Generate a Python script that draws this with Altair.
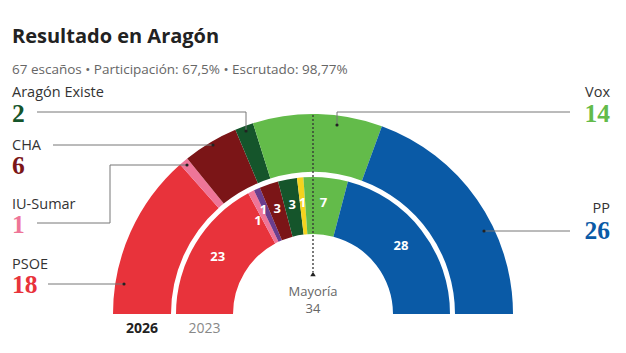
import math
import altair as alt
import pandas as pd

# ---------------- data ----------------
parties_2026 = ["PSOE", "IU-Sumar", "CHA", "Aragón Existe", "Vox", "PP"]
seats_2026 = [18, 1, 6, 2, 14, 26]
colors_2026 = ["#E8333B", "#EE7598", "#7B1517", "#15552B", "#63BB4A", "#0A5AA6"]

parties_2023 = ["PSOE", "IU", "Podemos", "CHA", "Teruel Existe", "PAR", "Vox", "PP"]
seats_2023 = [23, 1, 1, 3, 3, 1, 7, 28]
colors_2023 = ["#E8333B", "#EE7598", "#6A3D8E", "#7B1517", "#15552B", "#F4D31E", "#63BB4A", "#0A5AA6"]

total_seats = 67
majority = 34

title = "Resultado en Aragón"
subtitle = "67 escaños • Participación: 67,5% • Escrutado: 98,77%"

left_labels = ["Aragón Existe", "CHA", "IU-Sumar", "PSOE"]
right_labels = ["Vox", "PP"]

# ---------------- layout ----------------
W, H = 626, 353
CX, CY = 313, 314
OUT_R, OUT_R2 = 200, 142
IN_R, IN_R2 = 137, 80
SANS = "Open Sans"

# small nudges (in seat units / px) for crowded inner-ring labels
label_nudge = {"IU": (-1.4, -3), "Podemos": (-0.5, 4)}

theta_scale = alt.Scale(domain=[0, total_seats], range=[-math.pi / 2, math.pi / 2])


def ring_df(parties, seats, colors):
    df = pd.DataFrame({"party": parties, "seats": seats, "color": colors})
    df["order"] = range(len(df))
    df["end"] = df["seats"].cumsum()
    df["start"] = df["end"] - df["seats"]
    df["mid"] = (df["start"] + df["end"]) / 2
    return df


d26 = ring_df(parties_2026, seats_2026, colors_2026)
d23 = ring_df(parties_2023, seats_2023, colors_2023)
d23["lab_theta"] = d23["mid"] + d23["party"].map(lambda p: label_nudge.get(p, (0, 0))[0])
d23["lab_r"] = 111 + d23["party"].map(lambda p: label_nudge.get(p, (0, 0))[1])

outer = alt.Chart(d26).mark_arc(stroke=None).encode(
    theta=alt.Theta("start:Q", scale=theta_scale),
    theta2="end:Q",
    color=alt.Color("color:N", scale=None),
    x=alt.value(CX), y=alt.value(CY),
    radius=alt.value(OUT_R), radius2=alt.value(OUT_R2),
)

inner = alt.Chart(d23).mark_arc(stroke=None).encode(
    theta=alt.Theta("start:Q", scale=theta_scale),
    theta2="end:Q",
    color=alt.Color("color:N", scale=None),
    x=alt.value(CX), y=alt.value(CY),
    radius=alt.value(IN_R), radius2=alt.value(IN_R2),
)

inner_text = alt.Chart(d23).mark_text(
    color="white", font=SANS, fontWeight="bold", fontSize=13, baseline="middle"
).encode(
    theta=alt.Theta("lab_theta:Q", scale=theta_scale),
    radius=alt.Radius("lab_r:Q", scale=None),
    x=alt.value(CX), y=alt.value(CY),
    text="seats:Q",
)

# ---------------- annotations ----------------
seat_map = dict(zip(parties_2026, seats_2026))
col_map = dict(zip(parties_2026, colors_2026))

name_pos = {
    "Aragón Existe": (12, 97, 122),
    "CHA": (12, 150, 174),
    "IU-Sumar": (12, 209, 233),
    "PSOE": (12, 269, 293),
    "Vox": (610, 97, 122),
    "PP": (610, 213, 239),
}


def label_df(parties):
    rows = []
    for p in parties:
        x, yn, ys = name_pos[p]
        rows.append({"x": x, "yn": yn, "ys": ys, "name": p, "num": str(seat_map[p]), "color": col_map[p]})
    return pd.DataFrame(rows)


def label_layers(df, align):
    names = alt.Chart(df).mark_text(
        align=align, baseline="alphabetic", font=SANS, fontSize=14.5, color="#333333"
    ).encode(x=alt.X("x:Q", scale=None), y=alt.Y("yn:Q", scale=None), text="name:N")
    nums = alt.Chart(df).mark_text(
        align=align, baseline="alphabetic", font="Liberation Serif", fontWeight="bold", fontSize=25.5
    ).encode(x=alt.X("x:Q", scale=None), y=alt.Y("ys:Q", scale=None), text="num:N",
             color=alt.Color("color:N", scale=None))
    return names + nums


segments = pd.DataFrame({
    "x": [37, 246, 53, 37, 110, 110, 48, 570, 337, 570],
    "y": [112, 112, 145, 223, 223, 165, 284, 112, 112, 231],
    "x2": [246, 246, 213, 110, 110, 187, 124, 337, 337, 484],
    "y2": [112, 131, 145, 223, 165, 165, 284, 112, 125, 231],
})
leaders = alt.Chart(segments).mark_rule(color="#777777", strokeWidth=1).encode(
    x=alt.X("x:Q", scale=None), y=alt.Y("y:Q", scale=None),
    x2="x2:Q", y2="y2:Q",
)
dots = pd.DataFrame({"x": [246, 213, 187, 124, 337, 484], "y": [131, 145, 165, 284, 125, 231]})
dot_layer = alt.Chart(dots).mark_point(filled=True, color="#222222", size=10, opacity=1).encode(
    x=alt.X("x:Q", scale=None), y=alt.Y("y:Q", scale=None)
)

maj_line = alt.Chart(pd.DataFrame({"a": [0]})).mark_rule(
    color="#333333", strokeWidth=1.3, strokeDash=[2, 2]
).encode(x=alt.value(CX), y=alt.value(115), y2=alt.value(272))
maj_tri = alt.Chart(pd.DataFrame({"a": [0]})).mark_point(
    shape="triangle-up", filled=True, color="#222222", size=30, opacity=1
).encode(x=alt.value(CX), y=alt.value(274))
maj_text = alt.Chart(pd.DataFrame({"t": ["Mayoría", str(majority)], "y": [296, 312.5]})).mark_text(
    align="center", baseline="alphabetic", font=SANS, fontSize=13, color="#666666"
).encode(x=alt.value(CX), y=alt.Y("y:Q", scale=None), text="t:N")

years = pd.DataFrame({"t": ["2026"], "x": [CX - (OUT_R + OUT_R2) / 2]})
years23 = pd.DataFrame({"t": ["2023"], "x": [CX - (IN_R + IN_R2) / 2]})
y26 = alt.Chart(years).mark_text(
    align="center", baseline="alphabetic", font=SANS, fontWeight="bold", fontSize=14, color="#222222"
).encode(x=alt.X("x:Q", scale=None), y=alt.value(333), text="t:N")
y23 = alt.Chart(years23).mark_text(
    align="center", baseline="alphabetic", font=SANS, fontSize=14, color="#888888"
).encode(x=alt.X("x:Q", scale=None), y=alt.value(333), text="t:N")

title_l = alt.Chart(pd.DataFrame({"t": [title]})).mark_text(
    align="left", baseline="alphabetic", font=SANS, fontWeight="bold", fontSize=20, color="#222222"
).encode(x=alt.value(12), y=alt.value(43), text="t:N")
sub_l = alt.Chart(pd.DataFrame({"t": [subtitle]})).mark_text(
    align="left", baseline="alphabetic", font=SANS, fontSize=13.5, color="#666666"
).encode(x=alt.value(12), y=alt.value(74), text="t:N")

chart = alt.layer(
    outer, inner, inner_text, leaders, dot_layer,
    maj_line, maj_tri, maj_text, y26, y23,
    label_layers(label_df(left_labels), "left"), label_layers(label_df(right_labels), "right"),
    title_l, sub_l,
).properties(
    width=W, height=H, autosize=alt.AutoSizeParams(type="none"), padding=0,
    background="white",
).configure_view(stroke=None)

chart.save("out.html", embed_options={"renderer": "svg", "actions": False})
